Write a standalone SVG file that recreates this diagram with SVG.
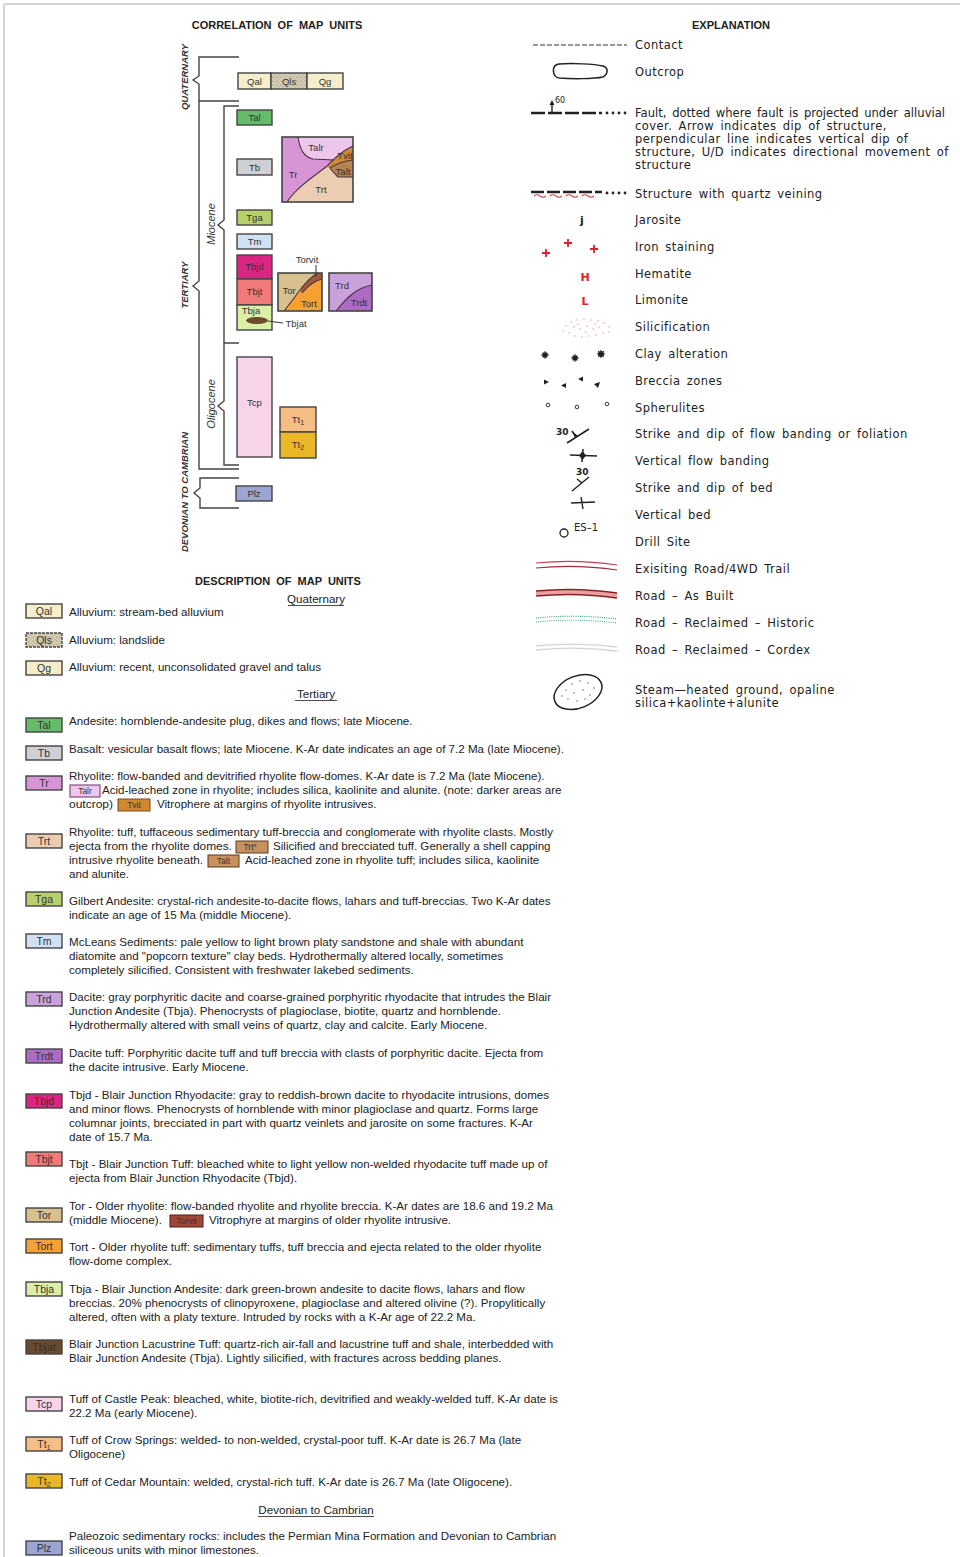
<svg xmlns="http://www.w3.org/2000/svg" width="960" height="1557" viewBox="0 0 960 1557">
<defs>
<style>
.t{font-family:"Liberation Sans",Arial,sans-serif;font-size:11.6px;fill:#222}
.e{font-family:"DejaVu Sans",sans-serif;font-size:11.5px;fill:#222;letter-spacing:0.45px;word-spacing:2.2px}
.lb{font-family:"Liberation Sans",Arial,sans-serif;font-size:9.5px;fill:#333;text-anchor:middle}
.dl{font-family:"Liberation Sans",Arial,sans-serif;font-size:10.5px;fill:#333;text-anchor:middle}
.il{font-family:"Liberation Sans",Arial,sans-serif;font-size:8.5px;fill:#333;text-anchor:middle}
.bx{stroke:#444;stroke-width:1.4}
.br{fill:none;stroke:#444;stroke-width:1.4}
.hd{font-family:"Liberation Sans",Arial,sans-serif;font-weight:bold;font-size:11px;fill:#222;text-anchor:middle;word-spacing:3px}
.sh{font-family:"Liberation Sans",Arial,sans-serif;font-size:11.6px;fill:#222;text-anchor:middle}
.age{font-family:"Liberation Sans",Arial,sans-serif;font-style:italic;font-weight:bold;font-size:9.5px;fill:#333;text-anchor:middle}
.age2{font-family:"Liberation Sans",Arial,sans-serif;font-style:italic;font-size:11px;fill:#333;text-anchor:middle}
.cv{fill:none;stroke:#4a3040;stroke-width:1.1}
.red{fill:none;stroke:#e0202c;stroke-width:1.8}
</style>
<pattern id="qls" width="4" height="4" patternUnits="userSpaceOnUse"><rect width="4" height="4" fill="#d6cdb0"/><circle cx="1" cy="1" r="0.6" fill="#777"/><circle cx="3" cy="3" r="0.5" fill="#999"/></pattern>
</defs>
<rect width="960" height="1557" fill="#fff"/>
<path d="M960,4 H4 V1557" fill="none" stroke="#aaa" stroke-width="1"/>

<!-- ===== CORRELATION OF MAP UNITS ===== -->
<text class="hd" x="277" y="29">CORRELATION OF MAP UNITS</text>
<g id="age-labels">
<text class="age" transform="translate(188,77) rotate(-90)">QUATERNARY</text>
<text class="age" transform="translate(188,285) rotate(-90)">TERTIARY</text>
<text class="age" transform="translate(188,492) rotate(-90)">DEVONIAN TO CAMBRIAN</text>
<text class="age2" transform="translate(215,224) rotate(-90)">Miocene</text>
<text class="age2" transform="translate(215,404) rotate(-90)">Oligocene</text>
</g>
<g id="brackets">
<path class="br" d="M239,57 H199 V76 L193,80 L199,84 V101 H239"/>
<path class="br" d="M199,101 V281 L193,286 L199,291 V469 H239"/>
<path class="br" d="M239,106 H224 V220 L218,225 L224,230 V343 H239"/>
<path class="br" d="M224,343 V401 L218,406 L224,411 V465 H239"/>
<path class="br" d="M239,478 H200 V488 L194,493 L200,498 V508 H239"/>
</g>
<g id="c-Qal"><rect class="bx" x="238" y="73" width="33" height="16" fill="#f6efcb"/><text class="lb" x="254.5" y="84.5">Qal</text></g>
<g id="c-Qls"><rect class="bx" x="271" y="73" width="36" height="16" fill="url(#qls)"/><text class="lb" x="289" y="84.5">Qls</text></g>
<g id="c-Qg"><rect class="bx" x="307" y="73" width="36" height="16" fill="#f6eec8"/><text class="lb" x="325" y="84.5">Qg</text></g>
<g id="c-Tal"><rect class="bx" x="237" y="110" width="35" height="15" fill="#66bb6a"/><text class="lb" x="254.5" y="121">Tal</text></g>
<g id="c-Tb"><rect class="bx" x="237" y="159" width="35" height="16" fill="#cfd0d6"/><text class="lb" x="254.5" y="170.5">Tb</text></g>
<g id="c-Tga"><rect class="bx" x="237" y="210" width="35" height="15" fill="#b8cf6e"/><text class="lb" x="254.5" y="221">Tga</text></g>
<g id="c-Tm"><rect class="bx" x="237" y="234" width="35" height="15" fill="#cfe1f3"/><text class="lb" x="254.5" y="245">Tm</text></g>
<g id="c-Tbjd"><rect class="bx" x="237" y="255" width="35" height="24" fill="#dc2583"/><text class="lb" x="254.5" y="270" fill="#6a1040">Tbjd</text></g>
<g id="c-Tbjt"><rect class="bx" x="237" y="279" width="35" height="26" fill="#f07a7a"/><text class="lb" x="254.5" y="295">Tbjt</text></g>
<g id="c-Tbja"><rect class="bx" x="237" y="305" width="35" height="25" fill="#dcefa6"/><text class="lb" x="251" y="314">Tbja</text></g>
<g id="c-Tbjat"><ellipse cx="257" cy="320.5" rx="11" ry="3.5" fill="#6b4a2e"/><text class="lb" x="296" y="327">Tbjat</text></g>
<g id="c-Tr-complex">
<rect x="282" y="137" width="71" height="65" fill="#ebcdb2"/>
<path d="M282,137 H298 C300,150 304,157 313,159 L334,160 C331,163 328,165 326,167 C314,176 296,188 287,202 H282 Z" fill="#d795d8"/>
<path d="M298,137 H353 V146 C344,150 338,155 334,160 L313,159 C304,157 300,150 298,137 Z" fill="#eec6ec"/>
<path d="M326,167 C335,157 344,150 353,146 V160 C345,161 338,163 330,168 Z" fill="#c98a3a"/>
<path d="M330,168 C338,163 345,161 353,160 V177 H338 C335,174 332,171 330,168 Z" fill="#b7834f"/>
<path class="cv" d="M298,137 C300,150 304,157 313,159 L334,160"/>
<path class="cv" d="M287,202 C296,188 314,176 326,167 C335,157 344,150 353,146"/>
<path class="cv" d="M330,168 C338,163 345,161 353,160"/>
<path class="cv" d="M330,168 C332,171 335,174 338,177 H353"/>
<rect x="282" y="137" width="71" height="65" fill="none" stroke="#444" stroke-width="1.6"/>
<text class="lb" x="316" y="151">Talr</text>
<text class="lb" x="293" y="178">Tr</text>
<text class="lb" x="345" y="159" font-size="8">Tvit</text>
<text class="lb" x="343" y="175" font-size="8">Talt</text>
<text class="lb" x="321" y="193">Trt</text>
</g>
<g id="c-Tor-complex">
<rect x="278" y="273" width="44" height="38" fill="#f5a133"/>
<path d="M278,273 H318 C312,276 306,282 300,290 C294,298 289,305 284,311 H278 Z" fill="#d9c08f"/>
<path d="M300,290 C306,282 312,276 318,273 H322 V279 C314,281 308,286 302,293 Z" fill="#a05a3a"/>
<path class="cv" d="M284,311 C289,305 294,298 300,290 C306,282 312,276 318,273"/>
<path class="cv" d="M302,293 C308,286 314,281 322,279"/>
<rect x="278" y="273" width="44" height="38" fill="none" stroke="#444" stroke-width="1.6"/>
<text class="lb" x="289" y="294">Tor</text>
<text class="lb" x="309" y="307">Tort</text>
<text class="lb" x="307" y="263">Torvit</text>
</g>
<g id="c-Trd-complex">
<rect x="329" y="273" width="43" height="38" fill="#c9a2dc"/>
<path d="M336,311 C345,300 355,288 372,285 V311 Z" fill="#ad6cc4"/>
<path class="cv" d="M336,311 C345,300 355,288 372,285"/>
<rect x="329" y="273" width="43" height="38" fill="none" stroke="#444" stroke-width="1.6"/>
<text class="lb" x="342" y="289">Trd</text>
<text class="lb" x="359" y="306">Trdt</text>
</g>
<g id="c-Tcp"><rect class="bx" x="237" y="357" width="35" height="100" fill="#f7d4ea"/><text class="lb" x="254.5" y="406">Tcp</text></g>
<g id="c-Tt1"><rect class="bx" x="280" y="407" width="36" height="25" fill="#f6bd84"/><text class="lb" x="298" y="423">Tt<tspan font-size="7" dy="2">1</tspan></text></g>
<g id="c-Tt2"><rect class="bx" x="280" y="432" width="36" height="26" fill="#eab728"/><text class="lb" x="298" y="448">Tt<tspan font-size="7" dy="2">2</tspan></text></g>
<g id="c-Plz"><rect class="bx" x="236" y="486" width="36" height="15" fill="#9ca5d2"/><text class="lb" x="254" y="497">Plz</text></g>
<g id="connectors">
<path d="M268,321 L283,323" fill="none" stroke="#333" stroke-width="1"/>
<path d="M316,265 L316,277" fill="none" stroke="#333" stroke-width="1"/>
</g>

<!-- ===== EXPLANATION ===== -->
<text class="hd" x="731" y="29">EXPLANATION</text>
<g id="x-contact"><line x1="533" y1="45" x2="627" y2="45" stroke="#333" stroke-width="1.2" stroke-dasharray="5 2"/><text class="e" x="635" y="49">Contact</text></g>
<g id="x-outcrop"><path d="M559,64 C572,63 594,64 603,66 C609,68 608,74 603,77 C594,79 572,79 559,78 C552,77 551,65 559,64 Z" fill="none" stroke="#222" stroke-width="1.5"/><text class="e" x="635" y="76">Outcrop</text></g>
<g id="x-fault">
<line x1="531" y1="113" x2="602" y2="113" stroke="#222" stroke-width="2.6" stroke-dasharray="14 3"/>
<g fill="#222"><circle cx="607" cy="113" r="1.4"/><circle cx="613" cy="113" r="1.4"/><circle cx="619" cy="113" r="1.4"/><circle cx="625" cy="113" r="1.4"/></g>
<line x1="552" y1="113" x2="552" y2="104" stroke="#222" stroke-width="1.4"/>
<polygon points="549.5,105 552,100 554.5,105" fill="#222"/>
<text x="555" y="103" font-family="DejaVu Sans,sans-serif" font-size="8" fill="#222">60</text>
<text class="e" x="635" y="117" style="letter-spacing:0;word-spacing:2px" textLength="310" lengthAdjust="spacingAndGlyphs">Fault, dotted where fault is projected under alluvial</text>
<text class="e" x="635" y="130">cover. Arrow indicates dip of structure,</text>
<text class="e" x="635" y="143">perpendicular line indicates vertical dip of</text>
<text class="e" x="635" y="156">structure, U/D indicates directional movement of</text>
<text class="e" x="635" y="169">structure</text>
</g>
<g id="x-quartz">
<line x1="531" y1="192" x2="602" y2="192" stroke="#222" stroke-width="2.4" stroke-dasharray="13 3"/>
<path d="M534,196 q3,-2.5 6,0 t6,0 M550,196 q3,-2.5 6,0 t6,0 M566,196 q3,-2.5 6,0 t6,0 M582,196 q3,-2.5 6,0 t6,0" fill="none" stroke="#e0404c" stroke-width="1.2"/>
<g fill="#222"><circle cx="607" cy="193" r="1.4"/><circle cx="613" cy="193" r="1.4"/><circle cx="619" cy="193" r="1.4"/><circle cx="625" cy="193" r="1.4"/></g>
<text class="e" x="635" y="198">Structure with quartz veining</text>
</g>
<g id="x-jarosite"><text x="580" y="224" font-family="DejaVu Sans,sans-serif" font-size="11" font-weight="bold" fill="#222">j</text><text class="e" x="635" y="224">Jarosite</text></g>
<g id="x-iron"><path class="red" d="M542,253 h8 M546,249 v8 M564,243 h8 M568,239 v8 M590,249 h8 M594,245 v8"/><text class="e" x="635" y="251">Iron staining</text></g>
<g id="x-hematite"><text x="585" y="281" font-family="DejaVu Sans,sans-serif" font-size="11" font-weight="bold" fill="#e0202c" text-anchor="middle">H</text><text class="e" x="635" y="278">Hematite</text></g>
<g id="x-limonite"><text x="585" y="305" font-family="DejaVu Sans,sans-serif" font-size="11" font-weight="bold" fill="#e0202c" text-anchor="middle">L</text><text class="e" x="635" y="304">Limonite</text></g>
<g id="x-silic">
<g fill="#e8a0a8">
<circle cx="566" cy="326" r="0.8"/><circle cx="571" cy="322" r="0.8"/><circle cx="577" cy="320" r="0.8"/><circle cx="584" cy="319" r="0.8"/><circle cx="591" cy="320" r="0.8"/><circle cx="598" cy="321" r="0.8"/><circle cx="604" cy="323" r="0.8"/><circle cx="609" cy="327" r="0.8"/>
<circle cx="563" cy="331" r="0.8"/><circle cx="569" cy="333" r="0.8"/><circle cx="575" cy="336" r="0.8"/><circle cx="582" cy="337" r="0.8"/><circle cx="589" cy="336" r="0.8"/><circle cx="596" cy="335" r="0.8"/><circle cx="603" cy="333" r="0.8"/><circle cx="609" cy="332" r="0.8"/>
<circle cx="574" cy="327" r="0.8"/><circle cx="580" cy="329" r="0.8"/><circle cx="587" cy="326" r="0.8"/><circle cx="593" cy="329" r="0.8"/><circle cx="599" cy="327" r="0.8"/><circle cx="586" cy="332" r="0.8"/><circle cx="578" cy="324" r="0.8"/><circle cx="595" cy="324" r="0.8"/>
</g>
<text class="e" x="635" y="331">Silicification</text>
</g>
<g id="x-clay">
<g fill="#222"><rect x="542.5" y="352.5" width="5" height="5"/><rect x="572.5" y="355.5" width="5" height="5"/><circle cx="601" cy="354" r="3"/></g>
<path d="M541,355 h8 M545,351 v8 M571,358 h8 M575,354 v8 M597,354 h8 M601,350 v8 M598,351 l6,6 M604,351 l-6,6" stroke="#222" stroke-width="0.9"/>
<text class="e" x="635" y="358">Clay alteration</text>
</g>
<g id="x-breccia" fill="#222">
<polygon points="544,379.5 549,382 544,384.5"/>
<polygon points="566,383 561,385.5 566,388"/>
<polygon points="583,376.5 578,379 583,381.5"/>
<polygon points="600,382 594,384 598,388"/>
<text class="e" x="635" y="385">Breccia zones</text>
</g>
<g id="x-spher" fill="none" stroke="#222" stroke-width="0.9">
<circle cx="548" cy="405" r="1.8"/><circle cx="577" cy="407" r="1.8"/><circle cx="607" cy="404" r="1.8"/>
<text class="e" x="635" y="412" stroke="none">Spherulites</text>
</g>
<g id="x-strike-flow">
<text x="556" y="435" font-family="DejaVu Sans,sans-serif" font-size="9" font-weight="bold" fill="#222">30</text>
<path d="M567,443 L589,429 M576,437 L572,431" fill="none" stroke="#222" stroke-width="1.6"/>
<polygon points="573,432 578,436 575,438" fill="#222"/>
<text class="e" x="635" y="438">Strike and dip of flow banding or foliation</text>
</g>
<g id="x-vert-flow">
<path d="M570,455 L597,456 M583,449 L582,462" fill="none" stroke="#222" stroke-width="1.5"/>
<polygon points="582.5,451 586,455.5 582.5,460 579,455.5" fill="#222"/>
<text class="e" x="635" y="465">Vertical flow banding</text>
</g>
<g id="x-strike-bed">
<text x="576" y="475" font-family="DejaVu Sans,sans-serif" font-size="9" font-weight="bold" fill="#222">30</text>
<path d="M572,491 L589,477 M582,483 L577,479" fill="none" stroke="#222" stroke-width="1.4"/>
<text class="e" x="635" y="492">Strike and dip of bed</text>
</g>
<g id="x-vert-bed">
<path d="M571,503 L595,502 M581,497 L583,509" fill="none" stroke="#222" stroke-width="1.4"/>
<text class="e" x="635" y="519">Vertical bed</text>
</g>
<g id="x-drill">
<circle cx="564" cy="533" r="4" fill="none" stroke="#222" stroke-width="1.3"/>
<text x="574" y="531" font-family="DejaVu Sans,sans-serif" font-size="10" fill="#222">ES–1</text>
<text class="e" x="635" y="546">Drill Site</text>
</g>
<g id="x-road-existing">
<path d="M536,563 Q576,559 617,565" fill="none" stroke="#c04050" stroke-width="1.2"/>
<path d="M536,568 Q576,564 617,570" fill="none" stroke="#a03040" stroke-width="1.2"/>
<text class="e" x="635" y="573">Exisiting Road/4WD Trail</text>
</g>
<g id="x-road-built">
<path d="M536,593.5 Q576,589.5 617,595.5" fill="none" stroke="#eaa0a0" stroke-width="4"/>
<path d="M536,591 Q576,587 617,593" fill="none" stroke="#8a2020" stroke-width="1.5"/>
<path d="M536,596 Q576,592 617,598" fill="none" stroke="#8a2020" stroke-width="1.5"/>
<text class="e" x="635" y="600">Road – As Built</text>
</g>
<g id="x-road-historic">
<path d="M536,618 Q576,614 617,619" fill="none" stroke="#40a080" stroke-width="1.2" stroke-dasharray="1 1.2"/>
<path d="M536,622 Q576,618 617,623" fill="none" stroke="#60b090" stroke-width="1.2" stroke-dasharray="1 1.2"/>
<text class="e" x="635" y="627">Road – Reclaimed – Historic</text>
</g>
<g id="x-road-cordex">
<path d="M536,646 Q576,642 617,647" fill="none" stroke="#d4d4d4" stroke-width="1.3"/>
<path d="M536,650 Q576,646 617,651" fill="none" stroke="#d4d4d4" stroke-width="1.3"/>
<text class="e" x="635" y="654">Road – Reclaimed – Cordex</text>
</g>
<g id="x-steam">
<ellipse cx="578" cy="692" rx="25" ry="16" transform="rotate(-22 578 692)" fill="#fff" stroke="#222" stroke-width="1.5"/>
<g fill="#555"><circle cx="566" cy="690" r="0.7"/><circle cx="572" cy="684" r="0.7"/><circle cx="580" cy="681" r="0.7"/><circle cx="588" cy="683" r="0.7"/><circle cx="594" cy="688" r="0.7"/><circle cx="574" cy="693" r="0.7"/><circle cx="583" cy="690" r="0.7"/><circle cx="590" cy="695" r="0.7"/><circle cx="568" cy="699" r="0.7"/><circle cx="577" cy="701" r="0.7"/><circle cx="585" cy="699" r="0.7"/><circle cx="562" cy="696" r="0.7"/></g>
<text class="e" x="635" y="694">Steam—heated ground, opaline</text>
<text class="e" x="635" y="707">silica+kaolinte+alunite</text>
</g>

<!-- ===== DESCRIPTION OF MAP UNITS ===== -->
<text class="hd" x="278" y="585">DESCRIPTION OF MAP UNITS</text>
<g id="h-quaternary"><text class="sh" x="316" y="603">Quaternary</text><line x1="288" y1="605.5" x2="344" y2="605.5" stroke="#222" stroke-width="0.8"/></g>
<g id="d-Qal"><rect class="bx" x="26" y="604" width="36" height="14" fill="#f6efcb"/><text class="dl" x="44" y="615">Qal</text><text class="t" x="69" y="616">Alluvium: stream-bed alluvium</text></g>
<g id="d-Qls"><rect class="bx" x="26" y="633" width="36" height="14" fill="url(#qls)" stroke-dasharray="3 1"/><text class="dl" x="44" y="644">Qls</text><text class="t" x="69" y="644">Alluvium: landslide</text></g>
<g id="d-Qg"><rect class="bx" x="26" y="661" width="36" height="14" fill="#f6eec8"/><text class="dl" x="44" y="672">Qg</text><text class="t" x="69" y="671">Alluvium: recent, unconsolidated gravel and talus</text></g>
<g id="h-tertiary"><text class="sh" x="316" y="698">Tertiary</text><line x1="295" y1="700.5" x2="337" y2="700.5" stroke="#222" stroke-width="0.8"/></g>
<g id="d-Tal"><rect class="bx" x="26" y="718" width="36" height="14" fill="#66bb6a"/><text class="dl" x="44" y="729">Tal</text><text class="t" x="69" y="725">Andesite: hornblende-andesite plug, dikes and flows; late Miocene.</text></g>
<g id="d-Tb"><rect class="bx" x="26" y="746" width="36" height="14" fill="#cfd0d6"/><text class="dl" x="44" y="757">Tb</text><text class="t" x="69" y="753">Basalt: vesicular basalt flows; late Miocene. K-Ar date indicates an age of 7.2 Ma (late Miocene).</text></g>
<g id="d-Tr"><rect class="bx" x="26" y="776" width="36" height="14" fill="#d795d8"/><text class="dl" x="44" y="787">Tr</text>
<text class="t" x="69" y="780">Rhyolite: flow-banded and devitrified rhyolite flow-domes. K-Ar date is 7.2 Ma (late Miocene).</text>
<rect x="70" y="785" width="30" height="12" fill="#eec6ec" stroke="#805080" stroke-width="1.2"/><text class="il" x="85" y="794">Talr</text>
<text class="t" x="102" y="794">Acid-leached zone in rhyolite; includes silica, kaolinite and alunite. (note: darker areas are</text>
<text class="t" x="69" y="808" textLength="44" lengthAdjust="spacingAndGlyphs">outcrop)</text>
<rect x="118" y="799" width="32" height="12" fill="#d08830" stroke="#7a4a20" stroke-width="1"/><text class="il" x="134" y="808">Tvit</text>
<text class="t" x="157" y="808">Vitrophere at margins of rhyolite intrusives.</text></g>
<g id="d-Trt"><rect class="bx" x="26" y="834" width="36" height="14" fill="#ebcdb2"/><text class="dl" x="44" y="845">Trt</text>
<text class="t" x="69" y="836">Rhyolite: tuff, tuffaceous sedimentary tuff-breccia and conglomerate with rhyolite clasts. Mostly</text>
<text class="t" x="69" y="850" textLength="163" lengthAdjust="spacingAndGlyphs">ejecta from the rhyolite domes.</text>
<rect x="236" y="841" width="32" height="12" fill="#c8905c" stroke="#5a3a20" stroke-width="1"/><text class="il" x="250" y="850" fill="#f5e8d8">Trt<tspan font-size="6" dy="-3">s</tspan></text>
<text class="t" x="273" y="850">Silicified and brecciated tuff. Generally a shell capping</text>
<text class="t" x="69" y="864" textLength="134" lengthAdjust="spacingAndGlyphs">intrusive rhyolite beneath.</text>
<rect x="208" y="855" width="31" height="12" fill="#c8905c" stroke="#5a3a20" stroke-width="1"/><text class="il" x="223.5" y="864" fill="#f5e8d8">Talt</text>
<text class="t" x="245" y="864">Acid-leached zone in rhyolite tuff; includes silica, kaolinite</text>
<text class="t" x="69" y="878">and alunite.</text></g>
<g id="d-Tga"><rect class="bx" x="26" y="892" width="36" height="14" fill="#b8cf6e"/><text class="dl" x="44" y="903">Tga</text>
<text class="t" x="69" y="905">Gilbert Andesite: crystal-rich andesite-to-dacite flows, lahars and tuff-breccias. Two K-Ar dates</text>
<text class="t" x="69" y="919">indicate an age of 15 Ma (middle Miocene).</text></g>
<g id="d-Tm"><rect class="bx" x="26" y="934" width="36" height="14" fill="#cfe1f3"/><text class="dl" x="44" y="945">Tm</text>
<text class="t" x="69" y="946">McLeans Sediments: pale yellow to light brown platy sandstone and shale with abundant</text>
<text class="t" x="69" y="960">diatomite and "popcorn texture" clay beds. Hydrothermally altered locally, sometimes</text>
<text class="t" x="69" y="974">completely silicified. Consistent with freshwater lakebed sediments.</text></g>
<g id="d-Trd"><rect class="bx" x="26" y="992" width="36" height="14" fill="#c9a2dc"/><text class="dl" x="44" y="1003">Trd</text>
<text class="t" x="69" y="1001">Dacite: gray porphyritic dacite and coarse-grained porphyritic rhyodacite that intrudes the Blair</text>
<text class="t" x="69" y="1015">Junction Andesite (Tbja). Phenocrysts of plagioclase, biotite, quartz and hornblende.</text>
<text class="t" x="69" y="1029">Hydrothermally altered with small veins of quartz, clay and calcite. Early Miocene.</text></g>
<g id="d-Trdt"><rect class="bx" x="26" y="1049" width="36" height="14" fill="#ad6cc4"/><text class="dl" x="44" y="1060">Trdt</text>
<text class="t" x="69" y="1057">Dacite tuff: Porphyritic dacite tuff and tuff breccia with clasts of porphyritic dacite. Ejecta from</text>
<text class="t" x="69" y="1071">the dacite intrusive. Early Miocene.</text></g>
<g id="d-Tbjd"><rect class="bx" x="26" y="1094" width="36" height="14" fill="#dc2583"/><text class="dl" x="44" y="1105" fill="#7a1448">Tbjd</text>
<text class="t" x="69" y="1099">Tbjd - Blair Junction Rhyodacite: gray to reddish-brown dacite to rhyodacite intrusions, domes</text>
<text class="t" x="69" y="1113">and minor flows. Phenocrysts of hornblende with minor plagioclase and quartz. Forms large</text>
<text class="t" x="69" y="1127">columnar joints, brecciated in part with quartz veinlets and jarosite on some fractures. K-Ar</text>
<text class="t" x="69" y="1141">date of 15.7 Ma.</text></g>
<g id="d-Tbjt"><rect class="bx" x="26" y="1152" width="36" height="14" fill="#f07a7a"/><text class="dl" x="44" y="1163">Tbjt</text>
<text class="t" x="69" y="1168">Tbjt - Blair Junction Tuff: bleached white to light yellow non-welded rhyodacite tuff made up of</text>
<text class="t" x="69" y="1182">ejecta from Blair Junction Rhyodacite (Tbjd).</text></g>
<g id="d-Tor"><rect class="bx" x="26" y="1208" width="36" height="14" fill="#d9c08f"/><text class="dl" x="44" y="1219">Tor</text>
<text class="t" x="69" y="1210">Tor - Older rhyolite: flow-banded rhyolite and rhyolite breccia. K-Ar dates are 18.6 and 19.2 Ma</text>
<text class="t" x="69" y="1224" textLength="93" lengthAdjust="spacingAndGlyphs">(middle Miocene).</text>
<rect x="170" y="1215" width="33" height="12" fill="#a04838" stroke="#4a2018" stroke-width="1"/><text class="il" x="186.5" y="1224" fill="#f0c8b8">Torvit</text>
<text class="t" x="209" y="1224">Vitrophyre at margins of older rhyolite intrusive.</text></g>
<g id="d-Tort"><rect class="bx" x="26" y="1239" width="36" height="14" fill="#f5a133"/><text class="dl" x="44" y="1250">Tort</text>
<text class="t" x="69" y="1251">Tort - Older rhyolite tuff: sedimentary tuffs, tuff breccia and ejecta related to the older rhyolite</text>
<text class="t" x="69" y="1265">flow-dome complex.</text></g>
<g id="d-Tbja"><rect class="bx" x="26" y="1282" width="36" height="14" fill="#dcefa6"/><text class="dl" x="44" y="1293">Tbja</text>
<text class="t" x="69" y="1293">Tbja - Blair Junction Andesite: dark green-brown andesite to dacite flows, lahars and flow</text>
<text class="t" x="69" y="1307">breccias. 20% phenocrysts of clinopyroxene, plagioclase and altered olivine (?). Propylitically</text>
<text class="t" x="69" y="1321">altered, often with a platy texture. Intruded by rocks with a K-Ar age of 22.2 Ma.</text></g>
<g id="d-Tbjat"><rect class="bx" x="26" y="1340" width="36" height="14" fill="#6b4a2e"/><text class="dl" x="44" y="1351" fill="#3a2818">Tbjat</text>
<text class="t" x="69" y="1348">Blair Junction Lacustrine Tuff: quartz-rich air-fall and lacustrine tuff and shale, interbedded with</text>
<text class="t" x="69" y="1362">Blair Junction Andesite (Tbja). Lightly silicified, with fractures across bedding planes.</text></g>
<g id="d-Tcp"><rect class="bx" x="26" y="1397" width="36" height="14" fill="#f7d4ea"/><text class="dl" x="44" y="1408">Tcp</text>
<text class="t" x="69" y="1403">Tuff of Castle Peak: bleached, white, biotite-rich, devitrified and weakly-welded tuff. K-Ar date is</text>
<text class="t" x="69" y="1417">22.2 Ma (early Miocene).</text></g>
<g id="d-Tt1"><rect class="bx" x="26" y="1437" width="36" height="14" fill="#f6bd84"/><text class="dl" x="44" y="1448">Tt<tspan font-size="7.5" dy="2">1</tspan></text>
<text class="t" x="69" y="1444">Tuff of Crow Springs: welded- to non-welded, crystal-poor tuff. K-Ar date is 26.7 Ma  (late</text>
<text class="t" x="69" y="1458">Oligocene)</text></g>
<g id="d-Tt2"><rect class="bx" x="26" y="1474" width="36" height="14" fill="#eab728"/><text class="dl" x="44" y="1485">Tt<tspan font-size="7.5" dy="2">2</tspan></text>
<text class="t" x="69" y="1486">Tuff of Cedar Mountain: welded, crystal-rich tuff. K-Ar date is 26.7 Ma (late Oligocene).</text></g>
<g id="h-devonian"><text class="sh" x="316" y="1514">Devonian to Cambrian</text><line x1="258" y1="1516.5" x2="374" y2="1516.5" stroke="#222" stroke-width="0.8"/></g>
<g id="d-Plz"><rect class="bx" x="26" y="1541" width="36" height="14" fill="#9ca5d2"/><text class="dl" x="44" y="1552">Plz</text>
<text class="t" x="69" y="1540">Paleozoic sedimentary rocks: includes the Permian Mina Formation and Devonian to Cambrian</text>
<text class="t" x="69" y="1554">siliceous units with minor limestones.</text></g>
</svg>
